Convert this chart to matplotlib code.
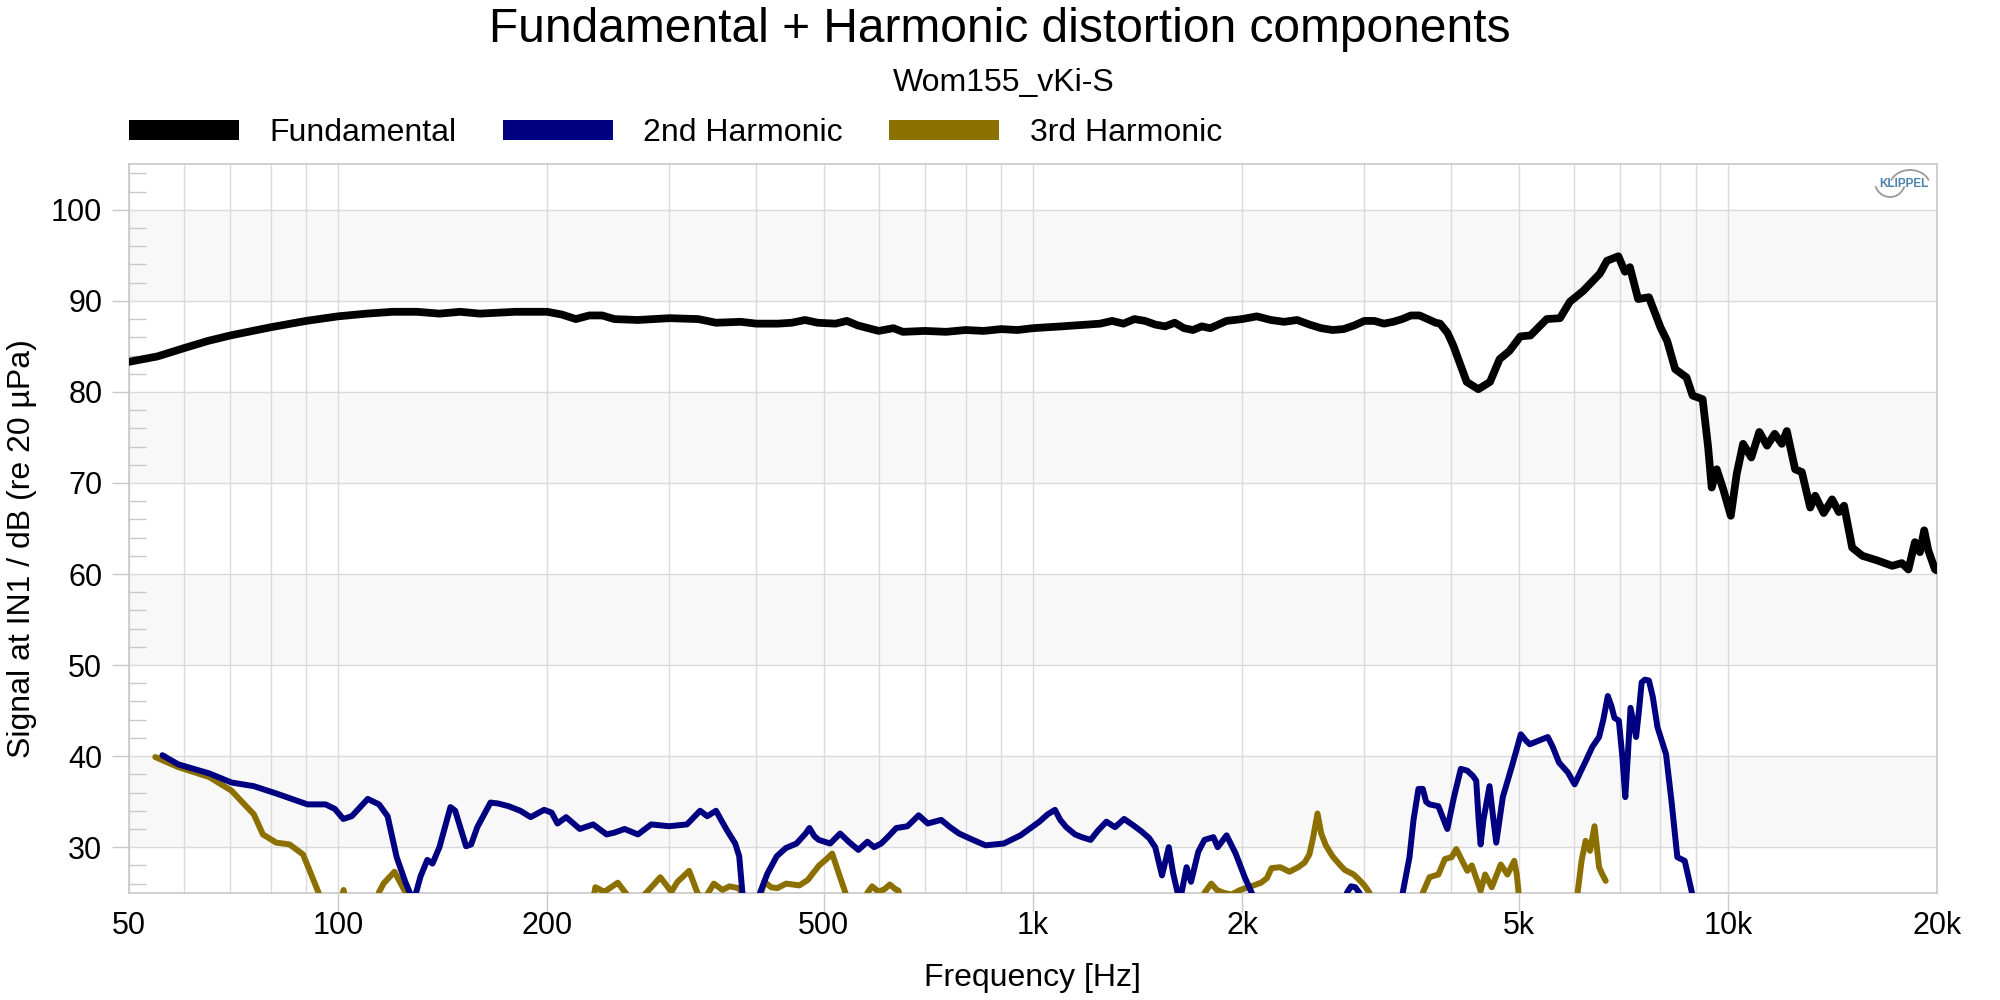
import matplotlib
matplotlib.use('Agg')
import matplotlib.pyplot as plt
from matplotlib.patches import Patch, Arc
from matplotlib.ticker import LogLocator, MultipleLocator, NullFormatter

plt.rcParams['font.family'] = ['Liberation Sans', 'DejaVu Sans']

# ---- data (Hz, dB) ----
fund_freq = [50, 55, 60, 65, 70, 80, 90, 100, 110, 120, 130, 140, 150, 160, 180,
             200, 210, 220, 230, 240, 250, 270, 300, 330, 350, 380, 400, 430, 450,
             470, 490, 520, 540, 560, 600, 630, 650, 700, 750, 800, 850, 900, 950,
             1000, 1050, 1100, 1150, 1200, 1250, 1300, 1350, 1400, 1450, 1500, 1550,
             1600, 1650, 1700, 1750, 1800, 1900, 2000, 2100, 2200, 2300, 2400, 2500,
             2600, 2700, 2800, 2900, 3000, 3100, 3200, 3300, 3400, 3500, 3600, 3700,
             3800, 3854, 3950, 4027, 4210, 4375, 4548, 4695, 4850, 5030, 5200, 5488,
             5735, 5925, 6195, 6546, 6700, 6958, 7113, 7230, 7430, 7700, 8000, 8180,
             8400, 8720, 8900, 9200, 9370, 9480, 9640, 9860, 10100, 10300, 10520,
             10810, 11100, 11390, 11680, 11960, 12160, 12500, 12780, 13140, 13360,
             13740, 14130, 14450, 14700, 15100, 15620, 16400, 17240, 17800, 18190,
             18590, 18900, 19170, 19430, 19870, 20000]
fund_db = [83.3, 83.9, 84.8, 85.6, 86.2, 87.1, 87.8, 88.3, 88.6, 88.8, 88.8, 88.6, 88.8, 88.6, 88.8,
           88.8, 88.5, 88.0, 88.4, 88.4, 88.0, 87.9, 88.1, 88.0, 87.6, 87.7, 87.5, 87.5, 87.6,
           87.9, 87.6, 87.5, 87.8, 87.3, 86.7, 87.0, 86.6, 86.7, 86.6, 86.8, 86.7, 86.9, 86.8,
           87.0, 87.1, 87.2, 87.3, 87.4, 87.5, 87.8, 87.5, 88.0, 87.8, 87.4, 87.2,
           87.6, 87.0, 86.8, 87.2, 87.0, 87.8, 88.0, 88.3, 87.9, 87.7, 87.9, 87.4,
           87.0, 86.8, 86.9, 87.3, 87.8, 87.8, 87.5, 87.7, 88.0, 88.4, 88.4, 88.0,
           87.6, 87.5, 86.5, 85.1, 81.1, 80.3, 81.1, 83.6, 84.5, 86.1, 86.2, 88.0,
           88.1, 89.9, 91.1, 93.0, 94.4, 94.9, 93.2, 93.7, 90.2, 90.4, 87.1, 85.6,
           82.5, 81.6, 79.6, 79.2, 73.9, 69.5, 71.5, 69.2, 66.4, 71.0, 74.3,
           72.8, 75.6, 74.1, 75.4, 74.3, 75.7, 71.5, 71.2, 67.3, 68.6,
           66.7, 68.2, 66.8, 67.5, 62.9, 62.0, 61.5, 60.9, 61.2, 60.5,
           63.5, 62.4, 64.8, 62.6, 60.5, 60.4]

# values below 25 dB fall under the plot floor
h2_freq = [55.9, 58.9, 65.3, 70.3, 75.7, 81.5, 90.4, 96, 99, 101.8, 104.7, 110.4, 114.6,
           117.9, 121.5, 125, 128.5, 131.5, 134.5, 136.8, 140, 145.2, 147.5, 152.9, 155.5,
           158.7, 165.8, 170, 176, 183, 189.4, 198, 203, 207, 213, 222.9, 233, 243.6, 250,
           258.5, 270.2, 282.4, 299.6, 317.9, 332, 340, 350, 362, 373, 378, 382, 386,
           400, 405, 415, 428, 441, 457, 471, 477, 485, 492, 511, 528, 545, 561, 578, 591,
           605, 620, 636, 660, 685, 706, 738, 760, 783, 820, 855, 908, 960, 1022, 1050,
           1076, 1095, 1117, 1150, 1176, 1211, 1240, 1276, 1313, 1353, 1395, 1435, 1470,
           1500, 1534, 1569, 1592, 1627, 1664, 1689, 1730, 1766, 1819, 1845, 1900, 1958,
           2018, 2078, 2100,
           2800, 2831, 2870, 2910, 2950, 2980,
           3380, 3406, 3483, 3530, 3588, 3640, 3680, 3722, 3833, 3948, 4036, 4129, 4219,
           4300, 4345, 4380, 4409, 4450, 4541, 4600, 4643, 4745, 4891, 5037, 5110, 5187,
           5343, 5508, 5600, 5716, 5888, 6020, 6150, 6250, 6382, 6528, 6620, 6720, 6800,
           6869, 6970, 7050, 7120, 7180, 7245, 7380, 7450, 7517, 7600, 7700, 7800, 7920,
           8150, 8300, 8460, 8670, 8880, 8950]
h2_db = [40.1, 39.1, 38.1, 37.1, 36.7, 35.9, 34.7, 34.7, 34.2, 33.1, 33.4, 35.3, 34.7,
         33.4, 28.9, 26.2, 24.0, 26.8, 28.6, 28.2, 30.0, 34.4, 34.0, 30.1, 30.3,
         32.2, 34.9, 34.8, 34.5, 34.0, 33.3, 34.1, 33.8, 32.6, 33.3, 32.0, 32.5, 31.4, 31.6,
         32.0, 31.4, 32.5, 32.3, 32.5, 34.0, 33.4, 34.0, 32.0, 30.4, 29.0, 25.0, 21.0,
         21.0, 25.0, 27.1, 29.0, 29.9, 30.4, 31.5, 32.1, 31.2, 30.8, 30.4, 31.5, 30.5, 29.7, 30.6, 30.0,
         30.4, 31.2, 32.1, 32.3, 33.5, 32.6, 33.0, 32.2, 31.5, 30.8, 30.2, 30.4, 31.3, 32.8, 33.6,
         34.1, 33.0, 32.2, 31.4, 31.1, 30.8, 31.8, 32.8, 32.2, 33.1, 32.4, 31.7, 31.0,
         30.0, 26.9, 30.0, 27.1, 24.0, 27.8, 26.2, 29.5, 30.8, 31.1, 30.0, 31.3, 29.3,
         26.7, 24.5, 21.0,
         21.0, 25.0, 25.7, 25.6, 25.0, 21.0,
         21.0, 25.0, 28.9, 33.0, 36.4, 36.4, 35.0, 34.7, 34.5, 32.0, 35.5, 38.6, 38.4,
         37.8, 37.3, 33.0, 30.3, 33.0, 36.7, 33.0, 30.5, 35.5, 38.9, 42.4, 41.8, 41.3,
         41.7, 42.1, 41.0, 39.3, 38.2, 36.9, 38.4, 39.5, 41.0, 42.1, 44.0, 46.6, 45.5,
         44.2, 43.9, 40.0, 35.5, 40.0, 45.3, 42.1, 45.0, 48.1, 48.4, 48.3, 46.5, 43.2,
         40.2, 35.0, 28.9, 28.5, 25.0, 21.0]

h3_freq = [54.6, 58.9, 65.3, 70.3, 75.7, 78.0, 81.5, 85.2, 89.1, 93.8, 96,
           99, 101.9, 104,
           112, 114.5, 116.3, 120.6, 125.2, 127,
           230, 234.7, 241.8, 252.8, 260.4, 268, 276.3, 284, 291, 301.9, 308.1, 320.2,
           329.8, 338, 347.5, 357.6, 365.9, 377, 385.4, 392,
           400, 405, 411, 420, 428.8, 441.6, 461.4, 474.4, 492.6, 505, 514.3, 525.8,
           537.4, 545,
           570, 578, 587, 600, 612, 622.6, 634, 641, 648,
           1740, 1766, 1806, 1840, 1880, 1930, 1988, 2040, 2078, 2130, 2172, 2205, 2271,
           2340, 2409, 2460, 2500, 2530, 2568, 2600, 2640, 2699, 2770, 2811, 2895, 2950,
           3000, 3051, 3080,
           3600, 3640, 3722, 3833, 3917, 4005, 4067, 4160, 4219, 4282, 4350, 4409, 4475,
           4575, 4713, 4819, 4928, 4970, 5000, 5030,
           6050, 6080, 6160, 6243, 6335, 6430, 6480, 6528, 6600, 6673]
h3_db = [39.9, 38.8, 37.7, 36.2, 33.6, 31.4, 30.5, 30.3, 29.2, 25.0, 21.0,
         21.0, 25.3, 21.0,
         21.0, 25.0, 26.0, 27.3, 25.0, 21.0,
         22.0, 25.6, 25.1, 26.1, 24.8, 24.0, 24.8, 25.8, 26.7, 25.1, 26.2, 27.4,
         24.8, 24.5, 26.0, 25.3, 25.7, 25.5, 24.5, 22.0,
         22.0, 24.5, 26.2, 25.6, 25.5, 26.0, 25.8, 26.4, 28.0, 28.7, 29.3, 27.1,
         25.0, 22.0,
         22.0, 25.0, 25.7, 25.1, 25.4, 25.9, 25.4, 25.2, 22.0,
         22.0, 25.0, 26.0, 25.3, 25.0, 24.8, 25.3, 25.6, 25.8, 26.1, 26.6, 27.7, 27.8,
         27.3, 27.8, 28.3, 29.2, 31.0, 33.7, 31.5, 30.2, 29.0, 28.0, 27.5, 27.0, 26.4,
         25.8, 25.0, 22.0,
         22.0, 25.0, 26.7, 27.0, 28.7, 28.9, 29.8, 28.3, 27.4, 28.0, 26.5, 25.2, 27.0,
         25.6, 28.1, 27.0, 28.5, 27.0, 25.0, 22.0,
         22.0, 25.0, 28.5, 30.7, 29.6, 32.3, 30.0, 27.8, 27.0, 26.3]

xtick_vals = [50, 100, 200, 500, 1000, 2000, 5000, 10000, 20000]
xtick_labels = ['50', '100', '200', '500', '1k', '2k', '5k', '10k', '20k']
ytick_vals = [30, 40, 50, 60, 70, 80, 90, 100]

series_names = ['Fundamental', '2nd Harmonic', '3rd Harmonic']
series_colors = ['#000000', '#000080', '#8b7000']

# ---- figure ----
fig = plt.figure(figsize=(20, 10), dpi=100)
ax = fig.add_axes([0.06435, 0.1073, 0.90415, 0.7284])
ax.set_xscale('log')
ax.set_xlim(50, 20000)
ax.set_ylim(25, 105)

# alternating light bands
for y0 in range(30, 100, 20):
    ax.axhspan(y0, y0 + 10, color='#f8f8f8', lw=0, zorder=0)

ax.plot(h3_freq, h3_db, color=series_colors[2], lw=4.3,
        solid_joinstyle='round', solid_capstyle='round', zorder=3)
ax.plot(h2_freq, h2_db, color=series_colors[1], lw=4.3,
        solid_joinstyle='round', solid_capstyle='round', zorder=4)
ax.plot(fund_freq, fund_db, color=series_colors[0], lw=5.6,
        solid_joinstyle='round', solid_capstyle='round', zorder=5)

ax.set_xticks(xtick_vals, xtick_labels)
ax.xaxis.set_minor_locator(LogLocator(base=10, subs=range(1, 10), numticks=50))
ax.xaxis.set_minor_formatter(NullFormatter())
ax.set_yticks(ytick_vals)
ax.yaxis.set_minor_locator(MultipleLocator(2))

ax.set_axisbelow(True)
ax.grid(which='both', axis='x', color='#dadada', lw=1.0)
ax.grid(which='major', axis='y', color='#dadada', lw=1.0)

ax.tick_params(axis='x', which='major', direction='out', length=13.5, width=1,
               color='#c8c8c8', pad=0, labelsize=22)
ax.tick_params(axis='x', which='minor', length=0)
ax.tick_params(axis='y', which='major', direction='out', length=12, width=1,
               color='#c8c8c8', pad=7, labelsize=22)
ax.tick_params(axis='y', which='minor', direction='in', length=12, width=1,
               color='#c8c8c8')
xt = ax.xaxis.get_major_ticks()
xt[0].tick1line.set_visible(False)
xt[-1].tick1line.set_visible(False)

for s in ax.spines.values():
    s.set_color('#c8c8c8')
    s.set_linewidth(1.2)

# ---- texts ----
fig.text(0.5, 0.971, 'Fundamental + Harmonic distortion components',
         ha='center', va='center', fontsize=34.5)
fig.text(0.502, 0.917, 'Wom155_vKi-S', ha='center', va='center', fontsize=23)
fig.text(0.5164, 0.022, 'Frequency [Hz]', ha='center', va='center', fontsize=23)
fig.text(0.011, 0.451, 'Signal at IN1 / dB (re 20 µPa)', rotation=90,
         ha='center', va='center', fontsize=23)

handles = [Patch(facecolor=c, edgecolor='none', label=n)
           for n, c in zip(series_names, series_colors)]
fig.legend(handles=handles, loc='center left', bbox_to_anchor=(0.0643, 0.867),
           ncol=3, frameon=False, fontsize=23, handlelength=3.45, handleheight=0.6,
           handletextpad=0.95, columnspacing=1.45, borderpad=0, borderaxespad=0)

# KLIPPEL mark
fig.text(0.964, 0.816, 'KLIPPEL', ha='right', va='center', fontsize=8.5,
         fontweight='bold', color='#4d82ad')
fig.add_artist(Arc((0.955, 0.814), 0.02, 0.032, theta1=30, theta2=150,
                   transform=fig.transFigure, color='#9a9a9a', lw=1.3))
fig.add_artist(Arc((0.945, 0.818), 0.015, 0.03, theta1=210, theta2=330,
                   transform=fig.transFigure, color='#9a9a9a', lw=1.3))

fig.savefig('out.png', dpi=100)
